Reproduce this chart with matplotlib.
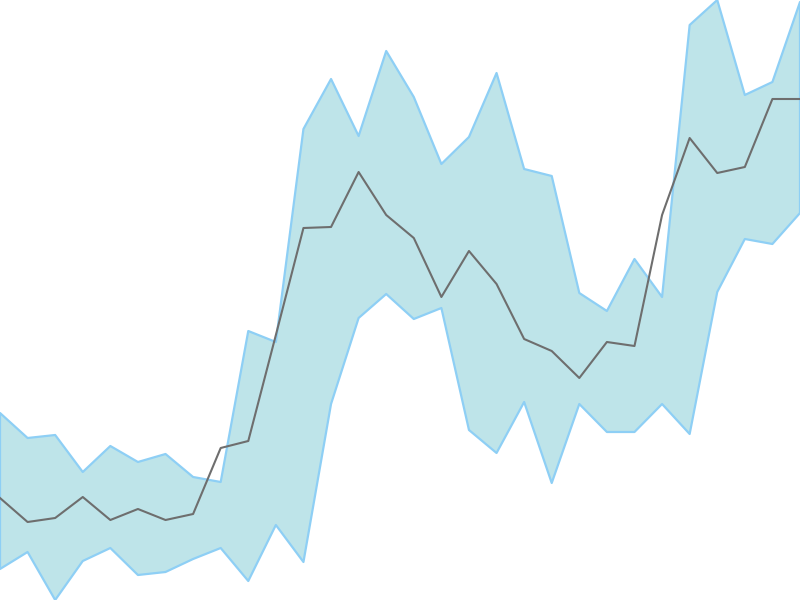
import matplotlib.pyplot as plt

# values (0 = bottom, 600 = top)
middle = [102, 78, 82, 103, 80, 91, 80, 86, 152, 159, 265, 372, 373, 428, 385, 362,
          303, 349, 316, 261, 249, 222, 258, 254, 385, 462, 427, 433, 501, 501]
upper = [187, 162, 165, 128, 154, 138, 146, 123, 118, 269, 258, 471, 521, 464, 549, 503,
         436, 463, 527, 431, 424, 307, 289, 341, 303, 575, 600, 505, 518, 598]
lower = [31, 48, 0, 39, 52, 25, 28, 41, 52, 19, 75, 38, 196, 282, 306, 281,
         292, 170, 147, 198, 117, 196, 168, 168, 196, 166, 308, 361, 356, 387]
x = list(range(len(middle)))

fig = plt.figure(figsize=(8, 6), dpi=100)
ax = fig.add_axes([0, 0, 1, 1])
ax.fill_between(x, lower, upper, facecolor='#bee4e9', edgecolor='#8ecff5', linewidth=1.6)
ax.plot(x, middle, color='#6e6e6e', linewidth=1.5)
ax.set_xlim(0, len(middle) - 1)
ax.set_ylim(0, 600)
ax.axis('off')
fig.savefig('out.png')
